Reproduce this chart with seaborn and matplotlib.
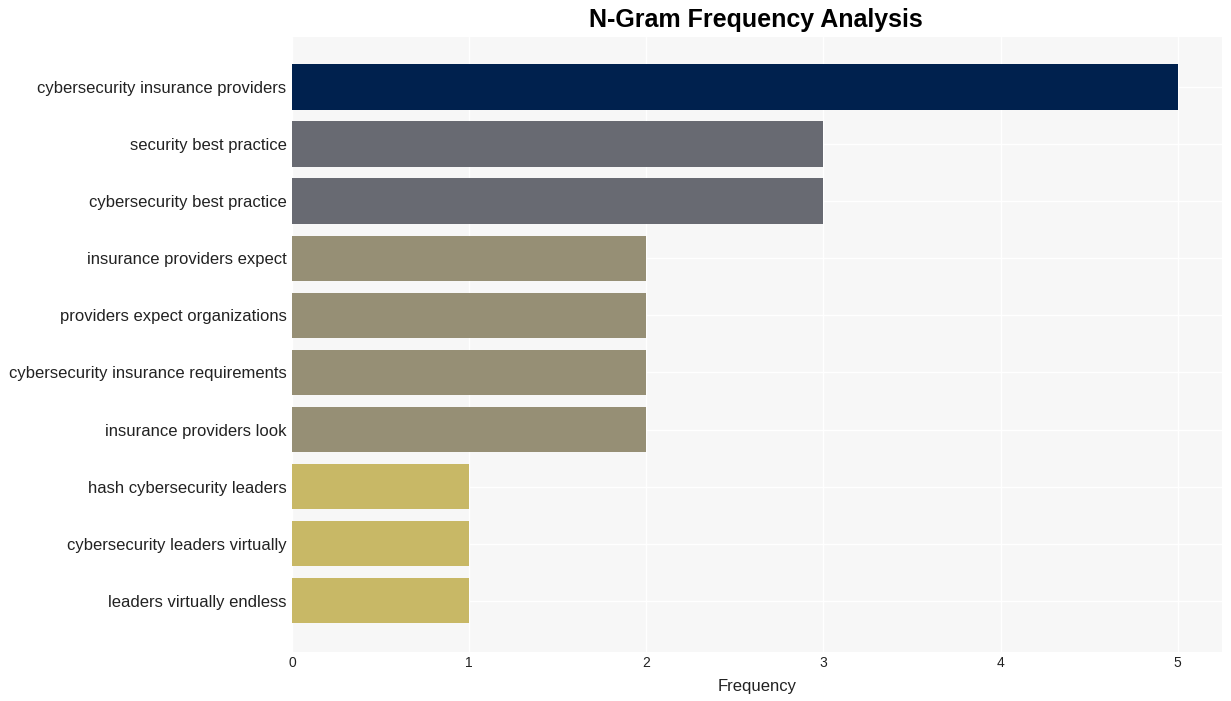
import matplotlib
matplotlib.use("Agg")
import matplotlib.pyplot as plt
import seaborn as sns
import pandas as pd

ngrams = ["cybersecurity insurance providers", "security best practice",
          "cybersecurity best practice", "insurance providers expect",
          "providers expect organizations", "cybersecurity insurance requirements",
          "insurance providers look", "hash cybersecurity leaders",
          "cybersecurity leaders virtually", "leaders virtually endless"]
counts = [5, 3, 3, 2, 2, 2, 2, 1, 1, 1]
bar_colors = ["#00214e", "#686a72", "#686a72", "#968f75", "#968f75",
              "#968f75", "#968f75", "#c8b866", "#c8b866", "#c8b866"]

df = pd.DataFrame({"ngram": ngrams, "count": counts})

sns.set_style("whitegrid", {"axes.facecolor": "#f7f7f7", "grid.color": "white"})
plt.rcParams["font.family"] = ["Liberation Sans", "DejaVu Sans"]

fig = plt.figure(figsize=(12.31, 7.01), dpi=100)
ax = fig.add_axes([0.2372, 0.0699, 0.7555, 0.8773])
sns.barplot(data=df, x="count", y="ngram", hue="ngram", palette=bar_colors,
            legend=False, width=0.8, saturation=1, linewidth=0, ax=ax)

ax.set_xlim(0, 5.25)
ax.set_ylim(9.9, -0.88)
for s in ax.spines.values():
    s.set_visible(False)
ax.grid(True, axis="both", color="white", linewidth=1)
ax.set_axisbelow(True)
ax.tick_params(axis="y", labelsize=12, length=0, pad=4, colors="#222222")
ax.tick_params(axis="x", labelsize=10, length=0, pad=3, colors="#222222")
ax.set_ylabel("")
ax.set_xlabel("Frequency", fontsize=12, color="#222222", labelpad=6)
fig.suptitle("N-Gram Frequency Analysis", x=0.614, y=0.988, fontsize=18,
             fontweight="bold", va="top", color="black")

fig.savefig("out.png", dpi=100)
